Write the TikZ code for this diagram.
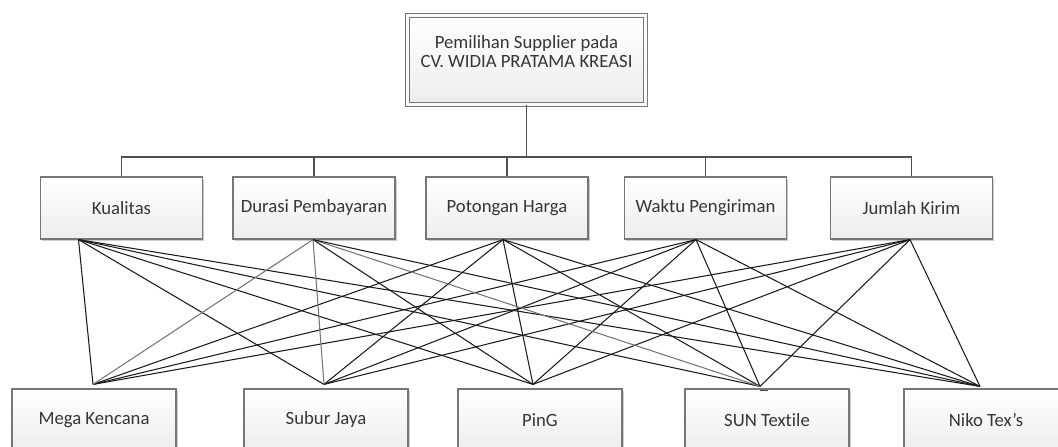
\documentclass[tikz,border=0pt]{standalone}
\usepackage{fontspec}
\setmainfont{Carlito}[Ligatures=NoCommon]
\usetikzlibrary{shadows}
\definecolor{boxborder}{HTML}{777777}
\definecolor{boxbot}{HTML}{EDEDED}
\definecolor{txt}{HTML}{363636}
\definecolor{treeline}{HTML}{505050}
\definecolor{linkdark}{HTML}{1A1A1A}
\definecolor{linkgray}{HTML}{747474}
\begin{document}
\begin{tikzpicture}[x=1pt,y=-1pt,
  box/.style={draw=boxborder, line width=1.2pt, top color=white, bottom color=boxbot,
    minimum width=162pt, minimum height=62pt, inner sep=0pt,
    font=\fontsize{18.7}{19}\selectfont, text=txt,
    drop shadow={shadow xshift=1.5pt, shadow yshift=-1.5pt, opacity=0.2, fill=black}},
  topbox/.style={box, double=white!96!gray, double distance=3pt, line width=1.1pt,
    minimum width=238pt, minimum height=89pt},
  label/.style={font=\fontsize{18.7}{19}\selectfont, text=txt, align=center, inner sep=0pt},
  tree/.style={draw=treeline, line width=1.3pt},
  link/.style={draw=linkdark, line width=1.05pt},
  linkg/.style={draw=linkgray, line width=1.05pt}]
\useasboundingbox (0,0) rectangle (1058,447);
\clip (0,0) rectangle (1058,447);

% top box
\node[topbox] (G) at (526.5,60) {};
\node[label] (Gt) at (526.5,52) {Pemilihan Supplier pada\\CV. WIDIA PRATAMA KREASI};

% criteria
\node[box] (K1) at (121.5,208) {Kualitas};
\node[box] (K2) at (314,208) {Durasi Pembayaran};
\node[box] (K3) at (507,208) {Potongan Harga};
\node[box] (K4) at (705.5,208) {Waktu Pengiriman};
\node[box] (K5) at (911.5,208) {Jumlah Kirim};

% alternatives
\node[box, minimum width=164pt] (A1) at (94,420) {Mega Kencana};
\node[box, minimum width=164pt] (A2) at (326,420) {Subur Jaya};
\node[box, minimum width=164pt] (A3) at (540,420) {PinG};
\node[box, minimum width=164pt] (A4) at (767,420) {SUN Textile};
\node[box, minimum width=164pt] (A5) at (986,420) {Niko Tex’s};

% tree
\coordinate (bus) at (526.5,157);
\draw[tree] (G.south) -- (bus);
\draw[tree] (K1.north) |- (bus) -| (K5.north);
\draw[tree] (K2.north) -- (K2.north |- bus);
\draw[tree] (K3.north) -- (K3.north |- bus);
\draw[tree] (K4.north) -- (K4.north |- bus);

% connection points
\coordinate (k1) at ([xshift=-43pt]K1.south);
\coordinate (k2) at ([xshift=-1pt]K2.south);
\coordinate (k3) at ([xshift=-4pt]K3.south);
\coordinate (k4) at ([xshift=-9.5pt]K4.south);
\coordinate (k5) at ([xshift=-1.5pt]K5.south);
\coordinate (a1) at ([xshift=-1pt,yshift=4pt]A1.north);
\coordinate (a2) at ([xshift=-2pt,yshift=4pt]A2.north);
\coordinate (a3) at ([xshift=-7pt,yshift=4pt]A3.north);
\coordinate (a4) at ([xshift=-7pt,yshift=2pt]A4.north);
\coordinate (a5) at ([xshift=-6pt,yshift=2pt]A5.north);

% links
\foreach \k in {1,3,4,5}{
  \foreach \a in {1,...,5}{
    \draw[link] (k\k) -- (a\a);
  }
}
\draw[linkg] (k2) -- (a1);
\draw[linkg] (k2) -- (a2);
\draw[link] (k2) -- (a3);
\draw[linkg] (k2) -- (a4);
\draw[link] (k2) -- (a5);

% small mark under SUN Textile link point
\draw[draw=treeline, line width=1pt] ([xshift=-7pt,yshift=-2.5pt]A4.north) -- ([xshift=1pt,yshift=-2.5pt]A4.north);
\end{tikzpicture}
\end{document}
